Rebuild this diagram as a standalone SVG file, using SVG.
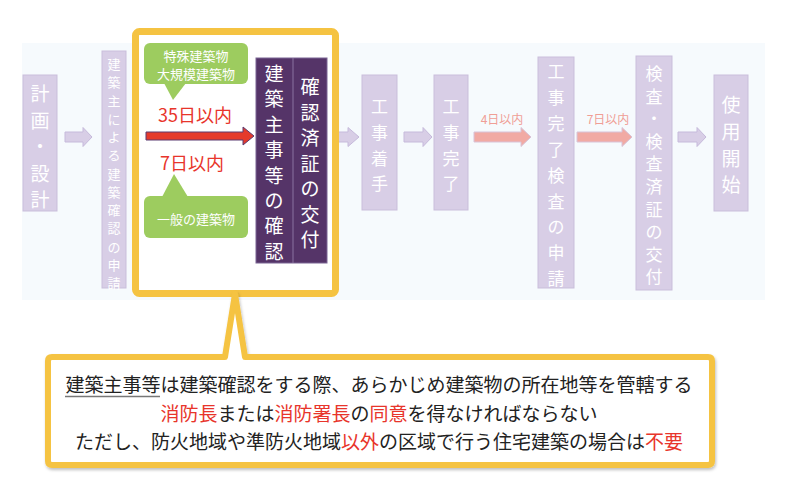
<svg xmlns="http://www.w3.org/2000/svg" width="800" height="481" viewBox="0 0 800 481">
<defs>
<style>
.jp{font-family:"Noto Sans CJK JP","Noto Sans CJK SC",sans-serif;}
.node{fill:#d8cee6;stroke:#c9bedb;stroke-width:1;}
.nt{fill:#ffffff;text-anchor:middle;dominant-baseline:central;}
.arr{fill:#d8cee6;stroke:#c6badb;stroke-width:1;}
.parr{fill:#f1aaa4;stroke:#d8c3d8;stroke-width:1;}
.plab{fill:#f09e96;font-size:12px;text-anchor:middle;dominant-baseline:central;}
.green{fill:#9dcc5f;}
.gt{fill:#ffffff;font-size:13px;text-anchor:middle;dominant-baseline:central;}
.red{fill:#e8352b;}
.pt{fill:#ffffff;font-size:19px;text-anchor:middle;dominant-baseline:central;}
.bt{fill:#222222;font-size:19px;text-anchor:middle;dominant-baseline:central;}
</style>
<filter id="sh" x="-5%" y="-10%" width="110%" height="130%">
<feDropShadow dx="1" dy="2" stdDeviation="1.5" flood-color="#000" flood-opacity="0.25"/>
</filter>
</defs>
<rect x="0" y="0" width="800" height="481" fill="#ffffff"/>
<rect x="22" y="43" width="743" height="257" fill="#f6fafd"/>

<g id="connectors">
<path class="arr" d="M65,132 H83 V127.5 L92,137 L83,146.5 V142 H65 Z"/>
<path class="arr" d="M333,132 H348 V127.5 L359,137 L348,146.5 V142 H333 Z"/>
<path class="arr" d="M404,132 H423 V127.5 L432,137 L423,146.5 V142 H404 Z"/>
<path class="parr" d="M474,132 H521 V127.5 L531,137 L521,146.5 V142 H474 Z"/>
<text class="jp plab" x="502" y="118">4日以内</text>
<path class="parr" d="M577,132 H622 V127.5 L632,137 L622,146.5 V142 H577 Z"/>
<text class="jp plab" x="608" y="118">7日以内</text>
<path class="arr" d="M678,132 H697 V127.5 L706,137 L697,146.5 V142 H678 Z"/>
</g>

<g id="n1">
<rect class="node" x="23" y="75" width="34" height="136"/>
<text class="jp nt" font-size="19"><tspan x="40" y="92">計</tspan><tspan x="40" y="118.5">画</tspan><tspan x="40" y="145">・</tspan><tspan x="40" y="171.5">設</tspan><tspan x="40" y="198">計</tspan></text>
</g>

<g id="n2">
<rect class="node" x="102" y="51" width="24" height="237"/>
<text class="jp nt" font-size="13"><tspan x="114" y="63">建</tspan><tspan x="114" y="81.25">築</tspan><tspan x="114" y="99.5">主</tspan><tspan x="114" y="117.75">に</tspan><tspan x="114" y="136">よ</tspan><tspan x="114" y="154.25">る</tspan><tspan x="114" y="172.5">建</tspan><tspan x="114" y="190.75">築</tspan><tspan x="114" y="209">確</tspan><tspan x="114" y="227.25">認</tspan><tspan x="114" y="245.5">の</tspan><tspan x="114" y="263.75">申</tspan><tspan x="114" y="282">請</tspan></text>
</g>

<g id="focus">
<rect x="135.5" y="31.5" width="200" height="262" rx="4" fill="#ffffff" stroke="#f5c342" stroke-width="7"/>
</g>

<g id="callout-special">
<rect class="green" x="144" y="43" width="104" height="41" rx="6"/>
<path class="green" d="M164,83 L173,100 L186,83 Z"/>
<text class="jp gt"><tspan x="196" y="55">特殊建築物</tspan><tspan x="196" y="73">大規模建築物</tspan></text>
</g>

<text class="jp red" x="158" y="114" font-size="18" dominant-baseline="central">35日以内</text>
<path d="M146,132 H243 V127 L254,136 L243,145 V140 H146 Z" fill="#e53a2b" stroke="#5b3a70" stroke-width="1"/>
<text class="jp red" x="160" y="162" font-size="18" dominant-baseline="central">7日以内</text>

<g id="callout-general">
<rect class="green" x="144" y="196" width="104" height="42" rx="6"/>
<path class="green" d="M162,197 L174,174 L188,197 Z"/>
<text class="jp gt" x="196" y="218">一般の建築物</text>
</g>

<g id="n-confirm">
<rect x="256" y="58" width="71" height="205" fill="#553468" stroke="#7b6493" stroke-width="1"/>
<line x1="293" y1="58" x2="293" y2="263" stroke="#8a73a0" stroke-width="1"/>
<text class="jp pt"><tspan x="274" y="72">建</tspan><tspan x="274" y="97.4">築</tspan><tspan x="274" y="122.8">主</tspan><tspan x="274" y="148.2">事</tspan><tspan x="274" y="173.6">等</tspan><tspan x="274" y="199">の</tspan><tspan x="274" y="224.4">確</tspan><tspan x="274" y="249.8">認</tspan></text>
<text class="jp pt"><tspan x="310" y="85">確</tspan><tspan x="310" y="110.5">認</tspan><tspan x="310" y="136">済</tspan><tspan x="310" y="161.5">証</tspan><tspan x="310" y="187">の</tspan><tspan x="310" y="212.5">交</tspan><tspan x="310" y="238">付</tspan></text>
</g>

<g id="n3">
<rect class="node" x="362" y="75" width="35" height="135"/>
<text class="jp nt" font-size="17"><tspan x="379.5" y="105">工</tspan><tspan x="379.5" y="131">事</tspan><tspan x="379.5" y="157">着</tspan><tspan x="379.5" y="182">手</tspan></text>
</g>

<g id="n4">
<rect class="node" x="434" y="75" width="34" height="135"/>
<text class="jp nt" font-size="17"><tspan x="451" y="105">工</tspan><tspan x="451" y="131">事</tspan><tspan x="451" y="157">完</tspan><tspan x="451" y="182">了</tspan></text>
</g>

<g id="n5">
<rect class="node" x="538" y="57" width="36" height="231"/>
<text class="jp nt" font-size="17"><tspan x="556" y="70">工</tspan><tspan x="556" y="96">事</tspan><tspan x="556" y="122">完</tspan><tspan x="556" y="148">了</tspan><tspan x="556" y="174">検</tspan><tspan x="556" y="200">査</tspan><tspan x="556" y="225">の</tspan><tspan x="556" y="251">申</tspan><tspan x="556" y="277">請</tspan></text>
</g>

<g id="n6">
<rect class="node" x="636" y="56" width="36" height="234"/>
<text class="jp nt" font-size="17"><tspan x="654" y="72">検</tspan><tspan x="654" y="94.6">査</tspan><tspan x="654" y="117.2">・</tspan><tspan x="654" y="139.8">検</tspan><tspan x="654" y="162.4">査</tspan><tspan x="654" y="185">済</tspan><tspan x="654" y="207.6">証</tspan><tspan x="654" y="230.2">の</tspan><tspan x="654" y="252.8">交</tspan><tspan x="654" y="275.4">付</tspan></text>
</g>

<g id="n7">
<rect class="node" x="714" y="75" width="34" height="136"/>
<text class="jp nt" font-size="19"><tspan x="731" y="103">使</tspan><tspan x="731" y="130">用</tspan><tspan x="731" y="157">開</tspan><tspan x="731" y="183">始</tspan></text>
</g>

<g id="note">
<path d="M52,357 H225 L235,294 L245,357 H708 Q712,357 712,361 V461 Q712,465 708,465 H52 Q48,465 48,461 V361 Q48,357 52,357 Z" fill="#ffffff" stroke="#f5c342" stroke-width="6" stroke-linejoin="round" filter="url(#sh)"/>
<text class="jp bt" x="379" y="383.5">建築主事等は建築確認をする際、あらかじめ建築物の所在地等を管轄する</text>
<line x1="65" y1="396.5" x2="160" y2="396.5" stroke="#777777" stroke-width="1.5"/>
<text class="jp bt" x="379" y="412"><tspan fill="#e8352b">消防長</tspan>または<tspan fill="#e8352b">消防署長</tspan>の<tspan fill="#e8352b">同意</tspan>を得なければならない</text>
<text class="jp bt" x="379" y="440">ただし、防火地域や準防火地域<tspan fill="#e8352b">以外</tspan>の区域で行う住宅建築の場合は<tspan fill="#e8352b">不要</tspan></text>
</g>
</svg>
